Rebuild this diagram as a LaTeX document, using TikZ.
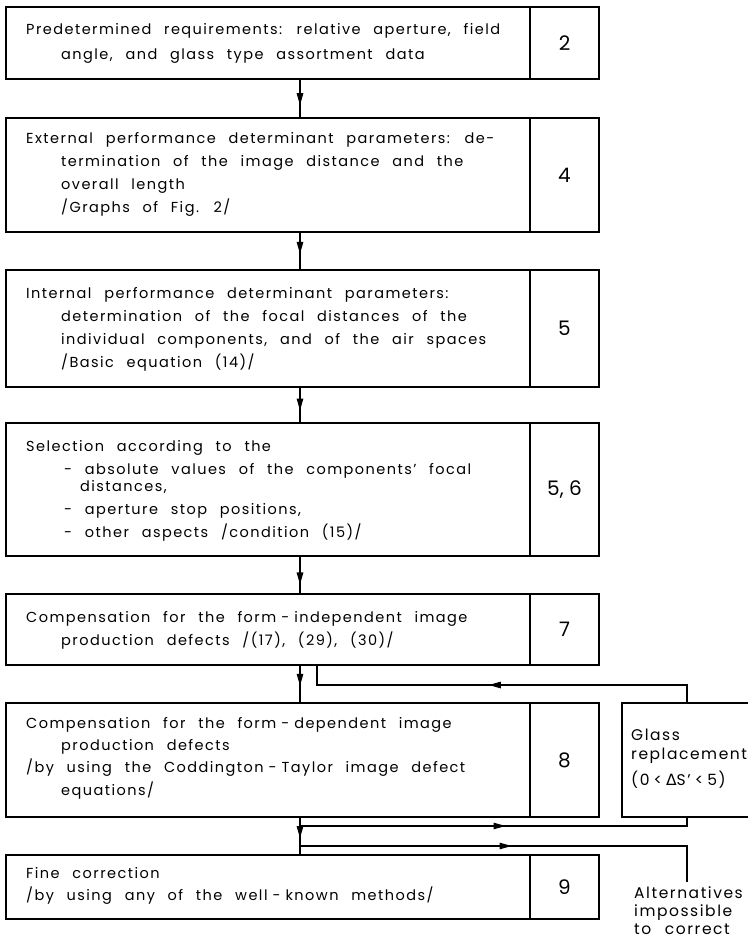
\documentclass[tikz,border=0pt]{standalone}
\usepackage{fontspec}
\setmainfont{Poppins}[LetterSpace=10,WordSpace=2.4]
\newfontfamily\numfont{Poppins}
\newfontfamily\dejavu{DejaVu Sans}[LetterSpace=10]
\usetikzlibrary{arrows.meta,decorations.markings,calc}
\newcommand{\dsh}{\hspace{5pt}-\hspace{5pt}}
\tikzset{
  mainbox/.style={draw, line width=1.6pt, inner sep=0pt, minimum width=524pt},
  numbox/.style={draw, line width=1.6pt, inner sep=0pt, minimum width=69pt, font=\numfont\fontsize{20}{20}\selectfont},
  sidebox/.style={draw, line width=1.6pt, inner sep=0pt, minimum width=130pt},
  txt/.style={anchor=base west, align=left, inner sep=0pt, font=\fontsize{14.5}{23}\selectfont},
  conn/.style={line width=1.1pt},
  midarrow/.style={postaction={decorate}, decoration={markings, mark=at position #1 with {\arrow{Triangle[length=12pt,width=6.5pt]}}}}
}
\begin{document}
\begin{tikzpicture}[x=1pt,y=-1pt]
\useasboundingbox (0,0) rectangle (747,939);
\fill[white] (0,0) rectangle (747,939);

% boxes
\node[mainbox, minimum height=72pt] (b1) at (268,43) {};
\node[numbox, minimum height=72pt] (n1) at (564.5,43) {2};
\node[mainbox, minimum height=114pt] (b2) at (268,175) {};
\node[numbox, minimum height=114pt] (n2) at (564.5,175) {4};
\node[mainbox, minimum height=117pt] (b3) at (268,328.5) {};
\node[numbox, minimum height=117pt] (n3) at (564.5,328.5) {5};
\node[mainbox, minimum height=133pt] (b4) at (268,489.5) {};
\node[numbox, minimum height=133pt] (n4) at (564.5,489.5) {5, 6};
\node[mainbox, minimum height=71pt] (b5) at (268,629.5) {};
\node[numbox, minimum height=71pt] (n5) at (564.5,629.5) {7};
\node[mainbox, minimum height=114pt] (b6) at (268,760) {};
\node[numbox, minimum height=114pt] (n6) at (564.5,760) {8};
\node[mainbox, minimum height=64pt] (b7) at (268,887) {};
\node[numbox, minimum height=64pt] (n7) at (564.5,887) {9};
\node[sidebox, minimum height=114pt] (glass) at (687,760) {};

% texts (anchored at the baseline of their last line)
\node[txt, font=\fontsize{14.5}{25}\selectfont] (t1) at (26,60) {Predetermined requirements: relative aperture, field\\\hspace*{35pt}angle, and glass type assortment data};
\node[txt] (t2) at (26,212) {External performance determinant parameters: de-\\\hspace*{35pt}termination of the image distance and the\\\hspace*{35pt}overall length\\\hspace*{35pt}/Graphs of Fig. 2/};
\node[txt, font=\fontsize{14.5}{22.7}\selectfont] (t3) at (26,367) {Internal performance determinant parameters:\\\hspace*{35pt}determination of the focal distances of the\\\hspace*{35pt}individual components, and of the air spaces\\\hspace*{35pt}/Basic equation (14)/};
\node[txt] (t4) at (26,537) {Selection according to the\\\hspace*{38pt}- absolute values of the components' focal\\[-6pt]\hspace*{54pt}distances,\\\hspace*{38pt}- aperture stop positions,\\\hspace*{38pt}- other aspects /condition (15)/};
\node[txt] (t5) at (26,645) {Compensation for the form\dsh independent image\\\hspace*{35pt}production defects /(17), (29), (30)/};
\node[txt, font=\fontsize{14.5}{22.3}\selectfont] (t6) at (26,795) {Compensation for the form\dsh dependent image\\\hspace*{35pt}production defects\\/by using the Coddington\dsh Taylor image defect\\\hspace*{35pt}equations/};
\node[txt, font=\fontsize{14.5}{22}\selectfont] (t7) at (26,900) {Fine correction\\/by using any of the well\dsh known methods/};
\node[txt, font=\fontsize{15.5}{19}\selectfont] (tg) at (631,785) {Glass\\replacement\\[7pt](0\hspace{4pt}<\hspace{4pt}{\dejavu Δ}S'\hspace{4pt}<\hspace{4pt}5)};
\node[txt, font=\fontsize{15.5}{18}\selectfont] (alt) at (634,934) {Alternatives\\impossible\\to correct};

% main flow connectors
\coordinate (m) at (300,0);
\draw[conn, midarrow=0.68] (m |- b1.south) -- (m |- b2.north);
\draw[conn, midarrow=0.58] (m |- b2.south) -- (m |- b3.north);
\draw[conn, midarrow=0.66] (m |- b3.south) -- (m |- b4.north);
\draw[conn, midarrow=0.76] (m |- b4.south) -- (m |- b5.north);
\draw[conn, midarrow=0.55] (m |- b5.south) -- (m |- b6.north);
\draw[conn, midarrow=0.56] (m |- b6.south) -- (m |- b7.north);

% feedback from glass replacement
\coordinate (fb) at (317,685);
\draw[conn, midarrow=0.53] (glass.north) |- (fb) -- (fb |- b5.south);

% branches below box 8
\coordinate (j1) at (300,826);
\coordinate (j2) at (300,846);
\draw[conn, midarrow=0.52] (j1) -| (glass.south);
\draw[conn, midarrow=0.5] (j2) -| ($(glass.south |- alt.north)+(0,-4)$);
\end{tikzpicture}
\end{document}
